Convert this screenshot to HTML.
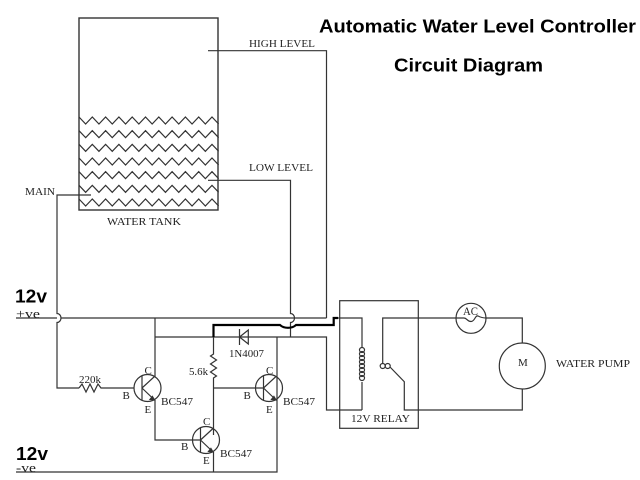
<!DOCTYPE html>
<html><head><meta charset="utf-8"><style>
html,body{margin:0;padding:0;background:#fff}
svg{display:block;filter:blur(0.35px)}
.s{font-family:"Liberation Serif",serif;fill:#222;font-size:11px}
.b{font-family:"Liberation Sans",sans-serif;font-weight:bold;fill:#000}
</style></head><body>
<svg width="640" height="480" viewBox="0 0 640 480" xmlns="http://www.w3.org/2000/svg">
<defs>
<path id="z" d="M79 117l6.65 7l6.65-7l6.65 7l6.65-7l6.65 7l6.65-7l6.65 7l6.65-7l6.65 7l6.65-7l6.65 7l6.65-7l6.65 7l6.65-7l6.65 7l6.65-7l6.65 7l6.65-7l6.65 7l6.65-7l6.65 7"/>
<g id="q" fill="none" stroke="#333" stroke-width="1.2">
<circle r="13.5"/>
<path d="M-5.5-12V12M-5.5 0L7-11.5M-5.5 0L7 12"/>
<path d="M7 12l-4.5-.6l2.4-3z" fill="#333"/>
</g>
</defs>
<rect width="640" height="480" fill="#fff"/>
<g fill="none" stroke="#333" stroke-width="1.2">
<rect x="79" y="18" width="139" height="192" stroke-width="1.4"/>
<use href="#z"/><use href="#z" y="13.67"/><use href="#z" y="27.33"/><use href="#z" y="41"/><use href="#z" y="54.67"/><use href="#z" y="68.33"/><use href="#z" y="82"/>
<path d="M208 50.7H326.5V318"/>
<path d="M208 180.3H290.5V313.500A4 4.500 0 0 1 290.500 322.500V337"/>
<path d="M91 195H57V313.500A4 4.500 0 0 1 57 322.500V388H79"/>
<path d="M79 388l3-4l4 8l4-8l4 8l4-8l3 4H134"/>
<path d="M16 318H57M60.500 318H326.5"/>
<path d="M155 318V377M155 400V440H201"/>
<path d="M155 337H326.500V410H362"/>
<path d="M16 472H277V337"/>
<path d="M213.500 337V354l-3 2l6 4l-6 4l6 4l-6 4l6 4l-3 2V435M213.500 388H264M213.500 452V472"/>
<path d="M239.500 329V345M248.300 330V344L239.500 337Z"/>
<rect x="339.700" y="300.700" width="78.600" height="127.600"/>
<path d="M338 318H362V348M362 382V410"/>
<circle cx="362" cy="350" r="2.500"/><circle cx="362" cy="354" r="2.500"/><circle cx="362" cy="358" r="2.500"/><circle cx="362" cy="362" r="2.500"/><circle cx="362" cy="366" r="2.500"/><circle cx="362" cy="370" r="2.500"/><circle cx="362" cy="374" r="2.500"/><circle cx="362" cy="378" r="2.500"/>
<path d="M382.700 363.500V318H456M486 318H522.300V343M522.300 389V410H404.300V381.700L390 367"/>
<circle cx="382.700" cy="366" r="2.500"/><circle cx="387.700" cy="366" r="2.500"/>
<circle cx="471" cy="318.300" r="15"/>
<path d="M456 318H464C467 318 467 321.500 471 321.500C475 321.500 475 315 478 316C480 317 482 318 486 318"/>
<circle cx="522.300" cy="366" r="23"/>
</g>
<path d="M213.500 337V325H280A10 7 0 0 0 296 325H333.700V318H338" fill="none" stroke="#000" stroke-width="2.200"/>
<use href="#q" x="147.500" y="388"/>
<use href="#q" x="206" y="440"/>
<use href="#q" x="269" y="388"/>
<g class="s">
<text x="249" y="47" textLength="66" lengthAdjust="spacingAndGlyphs">HIGH LEVEL</text>
<text x="249" y="171" textLength="64" lengthAdjust="spacingAndGlyphs">LOW LEVEL</text>
<text x="25" y="195" textLength="30" lengthAdjust="spacingAndGlyphs">MAIN</text>
<text x="107" y="225" textLength="74" lengthAdjust="spacingAndGlyphs">WATER TANK</text>
<text x="79" y="383" textLength="22" lengthAdjust="spacingAndGlyphs">220k</text>
<text x="189" y="375" textLength="19" lengthAdjust="spacingAndGlyphs">5.6k</text>
<text x="229" y="357" textLength="35" lengthAdjust="spacingAndGlyphs">1N4007</text>
<text x="144.500" y="374">C</text><text x="122.500" y="399">B</text><text x="144.500" y="413">E</text>
<text x="161" y="405" textLength="32" lengthAdjust="spacingAndGlyphs">BC547</text>
<text x="203" y="425">C</text><text x="181" y="450">B</text><text x="203" y="464">E</text>
<text x="220" y="457" textLength="32" lengthAdjust="spacingAndGlyphs">BC547</text>
<text x="266" y="374">C</text><text x="243.500" y="399">B</text><text x="266" y="413">E</text>
<text x="283" y="405" textLength="32" lengthAdjust="spacingAndGlyphs">BC547</text>
<text x="351" y="422" textLength="59" lengthAdjust="spacingAndGlyphs">12V RELAY</text>
<text x="556" y="367" textLength="74" lengthAdjust="spacingAndGlyphs">WATER PUMP</text>
<text x="518" y="366">M</text>
<text x="463" y="315" font-size="12" textLength="15" lengthAdjust="spacingAndGlyphs">AC</text>
<text x="16" y="318" font-size="13" textLength="24" lengthAdjust="spacingAndGlyphs">+ve</text>
<text x="16" y="472" font-size="13" textLength="20" lengthAdjust="spacingAndGlyphs">-ve</text>
</g>
<text class="b" x="319" y="32.700" font-size="18" textLength="317" lengthAdjust="spacingAndGlyphs">Automatic Water Level Controller</text>
<text class="b" x="394" y="71.700" font-size="18" textLength="149" lengthAdjust="spacingAndGlyphs">Circuit Diagram</text>
<text class="b" x="15" y="302.500" font-size="18" textLength="32" lengthAdjust="spacingAndGlyphs">12v</text>
<text class="b" x="16" y="460" font-size="18" textLength="32" lengthAdjust="spacingAndGlyphs">12v</text>
</svg>
</body></html>
